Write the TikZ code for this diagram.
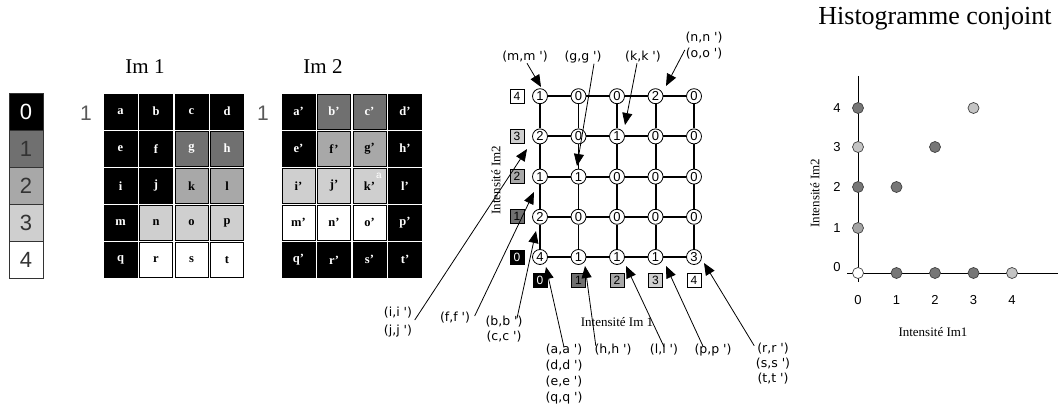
\documentclass[tikz,border=0pt]{standalone}
\usepackage{fontspec}
\setmainfont{Liberation Serif}
\newfontfamily\labfont{DejaVu Sans}
\newfontfamily\digfont{Liberation Sans}
\usetikzlibrary{arrows.meta}
\definecolor{c0}{gray}{0}
\definecolor{c1}{HTML}{707070}
\definecolor{c2}{HTML}{A8A8A8}
\definecolor{c3}{HTML}{CFCFCF}
\definecolor{c4}{HTML}{FFFFFF}
\definecolor{tw}{HTML}{FFFFFF}
\definecolor{tb}{HTML}{000000}
\definecolor{mk1}{HTML}{777777}
\definecolor{mk2}{HTML}{A4A4A4}
\definecolor{mk3}{HTML}{C4C4C4}
\tikzset{
  cellbox/.style={draw=black, line width=0.7, minimum width=33, minimum height=35, inner sep=0,
    font=\bfseries\fontsize{12.5}{12.5}\selectfont},
  legbox/.style={draw=black!80, line width=0.8, minimum width=34, minimum height=37, inner sep=0,
    font=\digfont\fontsize{22}{24}\selectfont},
  valnode/.style={circle, draw=black, line width=0.8, fill=white, minimum size=15, inner sep=0,
    font=\digfont\fontsize{13}{13}\selectfont},
  sqlab/.style={draw=black, line width=0.7, minimum size=14, inner sep=0,
    font=\digfont\fontsize{12}{12}\selectfont},
  lbl/.style={font=\labfont\fontsize{12.5}{15}\selectfont, inner sep=0.5, align=center},
  arr/.style={line width=0.8, -{Triangle[length=12pt,width=10pt]}},
  gline/.style={line width=1.5},
  gthick/.style={line width=2},
  axlab/.style={font=\fontsize{13}{13}\selectfont, inner sep=0},
  hmark/.style={circle, draw=black!75, line width=0.7, minimum size=11, inner sep=0},
  hnum/.style={font=\digfont\fontsize{13}{13}\selectfont, inner sep=0}
}
\begin{document}
\begin{tikzpicture}[x=1pt,y=-1pt]
\useasboundingbox (0,0) rectangle (1061,409);

% ---------------- legend ----------------
\foreach \v/\fc/\tc [count=\i from 0] in {0/c0/tw,1/c1/black!80,2/c2/black!80,3/c3/black!80,4/c4/black!80}{
  \node[legbox, fill=\fc, text=\tc] (leg-\v) at (26,{111.5+37*\i}) {\v};
}

% ---------------- titles ----------------
\node[font=\fontsize{21}{21}\selectfont] (t-im1) at (145,67) {Im 1};
\node[font=\fontsize{21}{21}\selectfont] (t-im2) at (323,67) {Im 2};
\node[font=\digfont\fontsize{21}{21}\selectfont, text=black!65] (one-a) at (86,113) {1};
\node[font=\digfont\fontsize{21}{21}\selectfont, text=black!65] (one-b) at (263,113) {1};

% ---------------- Im 1 ----------------
\foreach \l/\c/\r/\fc/\tc in {
  a/0/0/c0/tw, b/1/0/c0/tw, c/2/0/c0/tw, d/3/0/c0/tw,
  e/0/1/c0/tw, f/1/1/c0/tw, g/2/1/c1/tw, h/3/1/c1/tw,
  i/0/2/c0/tw, j/1/2/c0/tw, k/2/2/c2/tb, l/3/2/c2/tb,
  m/0/3/c0/tw, n/1/3/c3/tb, o/2/3/c3/tb, p/3/3/c3/tb,
  q/0/4/c0/tw, r/1/4/c4/tb, s/2/4/c4/tb, t/3/4/c4/tb}{
  \node[cellbox, fill=\fc, text=\tc] (im1-\l) at ({120.5+35.5*\c},{111.5+37.1*\r}) {\l};
}

% ---------------- Im 2 ----------------
\foreach \l/\c/\r/\fc/\tc in {
  a/0/0/c0/tw, b/1/0/c1/tw, c/2/0/c1/tw, d/3/0/c0/tw,
  e/0/1/c0/tw, f/1/1/c2/tb, g/2/1/c2/tb, h/3/1/c0/tw,
  i/0/2/c3/tb, j/1/2/c3/tb, k/2/2/c3/tb, l/3/2/c0/tw,
  m/0/3/c4/tb, n/1/3/c4/tb, o/2/3/c4/tb, p/3/3/c0/tw,
  q/0/4/c0/tw, r/1/4/c0/tw, s/2/4/c0/tw, t/3/4/c0/tw}{
  \node[cellbox, fill=\fc, text=\tc] (im2-\l) at ({298.5+35.5*\c},{111.5+37.1*\r}) {\l'};
}
\node[font=\digfont\fontsize{10}{10}\selectfont, text=white, inner sep=0] (im2-mark) at (379,176) {a};

% ---------------- grid of counts ----------------
\foreach \y/\vals in {0/{4,1,1,1,3}, 1/{2,0,0,0,0}, 2/{1,1,0,0,0}, 3/{2,0,1,0,0}, 4/{1,0,0,2,0}}{
  \foreach \v [count=\x from 0] in \vals {
    \node[valnode] (g-\x-\y) at ({540+38.5*\x},{257-40.2*\y}) {\v};
  }
}
\foreach \y in {0,4}{
  \draw[gline] (g-0-\y) -- (g-1-\y) -- (g-2-\y) -- (g-3-\y) -- (g-4-\y);
}
\foreach \y in {1,2,3}{
  \draw[gthick] (g-0-\y) -- (g-1-\y) -- (g-2-\y) -- (g-3-\y) -- (g-4-\y);
}
\foreach \x in {0,1,4}{
  \draw[gline] (g-\x-0) -- (g-\x-1) -- (g-\x-2) -- (g-\x-3) -- (g-\x-4);
}
\foreach \x in {2,3}{
  \draw[gthick] (g-\x-0) -- (g-\x-1) -- (g-\x-2) -- (g-\x-3) -- (g-\x-4);
}
% axis squares
\foreach \v/\fc/\tc in {0/c0/white,1/c1/black,2/c2/black,3/c3/black,4/c4/black}{
  \node[sqlab, fill=\fc, text=\tc] (ry-\v) at (517,{257-40.2*\v}) {\v};
  \node[sqlab, fill=\fc, text=\tc] (cx-\v) at ({540+38.5*\v},280) {\v};
}
\node[axlab] (ax-im1) at (617,322) {Intensité Im 1};
\node[axlab, rotate=90] (ax-im2) at (496,180) {Intensité Im2};

% labels
\node[lbl] (lb-m) at (525,57) {(m,m ')};
\node[lbl] (lb-g) at (583,57) {(g,g ')};
\node[lbl] (lb-k) at (643,57) {(k,k ')};
\node[lbl, font=\labfont\fontsize{12.5}{16}\selectfont] (lb-no) at (704,46) {(n,n ')\\(o,o ')};
\node[lbl, font=\labfont\fontsize{12.5}{18.5}\selectfont] (lb-ij) at (398,322) {(i,i ')\\(j,j ')};
\node[lbl] (lb-f) at (455,318) {(f,f ')};
\node[lbl] (lb-bc) at (504,329) {(b,b ')\\(c,c ')};
\node[lbl, font=\labfont\fontsize{12.5}{16}\selectfont] (lb-adeq) at (564,374) {(a,a ')\\(d,d ')\\(e,e ')\\(q,q ')};
\node[lbl] (lb-h) at (613,350) {(h,h ')};
\node[lbl] (lb-l) at (664,350) {(l,l ')};
\node[lbl] (lb-p) at (713,350) {(p,p ')};
\node[lbl] (lb-rst) at (773,364) {(r,r ')\\(s,s ')\\(t,t ')};

% arrow tips
\coordinate (tp-m) at (541,87);
\coordinate (tp-g) at (577,166);
\coordinate (tp-k) at (625,125);
\coordinate (tp-no) at (666,86);
\coordinate (tp-ij) at (527,149);
\coordinate (tp-f) at (534,192);
\coordinate (tp-bc) at (536,231);
\coordinate (tp-adeq) at (546,267);
\coordinate (tp-h) at (585,266);
\coordinate (tp-l) at (626,266);
\coordinate (tp-p) at (666,266);
\coordinate (tp-rst) at (704,263);

\draw[arr] ([xshift=2]lb-m.south) -- (tp-m);
\draw[arr] ([xshift=11]lb-g.south) -- (tp-g);
\draw[arr] ([xshift=-6]lb-k.south) -- (tp-k);
\draw[arr] ([yshift=-4]lb-no.west) -- (tp-no);
\draw[arr] ([xshift=2,yshift=2]lb-ij.east) -- (tp-ij);
\draw[arr] ([xshift=4,yshift=2]lb-f.east) -- (tp-f);
\draw[arr] ([xshift=13,yshift=-3]lb-bc.north) -- (tp-bc);
\draw[arr] ([yshift=-4]lb-adeq.north) -- (tp-adeq);
\draw[arr] ([xshift=2,yshift=-2]lb-h.north west) -- (tp-h);
\draw[arr] ([yshift=-3]lb-l.north) -- (tp-l);
\draw[arr] ([xshift=-10,yshift=-3]lb-p.north) -- (tp-p);
\draw[arr] ([xshift=-1,yshift=-3]lb-rst.north west) -- (tp-rst);

% ---------------- joint histogram ----------------
\node[font=\fontsize{26}{26}\selectfont] (t-hist) at (935,19) {Histogramme conjoint};
\coordinate (ay-top) at (858,76);
\coordinate (ay-bot) at (858,282);
\coordinate (ax-left) at (847,273);
\coordinate (ax-right) at (1058,273);
\draw[line width=0.9] (ay-top) -- (ay-bot);
\draw[line width=0.9] (ax-left) -- (ax-right);
\foreach \v/\yy in {0/267,1/228,2/187,3/147,4/108}{
  \node[hnum] (hy-\v) at (837,\yy) {\v};
}
\foreach \v in {0,1,2,3,4}{
  \node[hnum] (hx-\v) at ({858+38.5*\v},300) {\v};
}
\node[axlab] (hx-lab) at (933,332) {Intensité Im1};
\node[axlab, rotate=90] (hy-lab) at (815,193) {Intensité Im2};
\node[hmark, fill=white] (h-0-0) at (858,273) {};
\node[hmark, fill=mk1] (h-1-0) at (896.5,273) {};
\node[hmark, fill=mk1] (h-2-0) at (935,273) {};
\node[hmark, fill=mk1] (h-3-0) at (973.5,273) {};
\node[hmark, fill=mk3] (h-4-0) at (1012,273) {};
\node[hmark, fill=mk2] (h-0-1) at (858,228) {};
\node[hmark, fill=mk1] (h-0-2) at (858,187) {};
\node[hmark, fill=mk3] (h-0-3) at (858,147) {};
\node[hmark, fill=mk1] (h-0-4) at (858,108) {};
\node[hmark, fill=mk1] (h-1-2) at (896.5,187) {};
\node[hmark, fill=mk1] (h-2-3) at (935,147) {};
\node[hmark, fill=mk3] (h-3-4) at (973.5,108) {};
\end{tikzpicture}
\end{document}
